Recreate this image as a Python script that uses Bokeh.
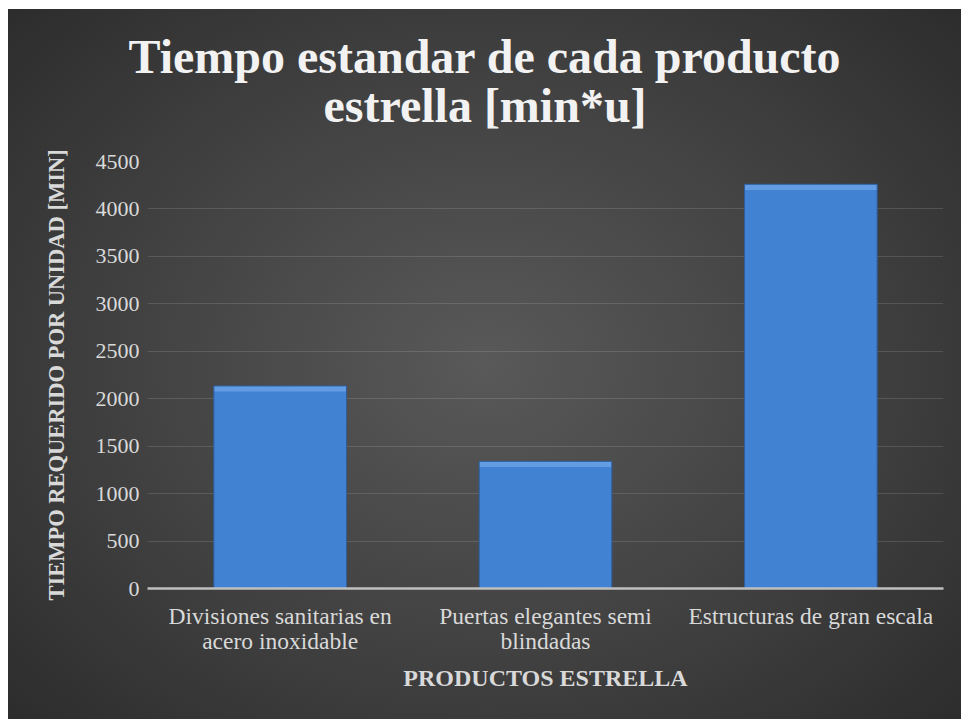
import json
from bokeh.plotting import figure
from bokeh.models import Spacer, Range1d, Title, CategoricalAxis, CustomJSTickFormatter
from bokeh.layouts import column, row
from bokeh.embed import file_html
from bokeh.resources import INLINE

categories = ["Divisiones sanitarias en acero inoxidable",
              "Puertas elegantes semi blindadas",
              "Estructuras de gran escala"]
label_line1 = ["Divisiones sanitarias en", "Puertas elegantes semi", "Estructuras de gran escala"]
label_line2 = ["acero inoxidable", "blindadas", ""]
values = [2135, 1340, 4260]
y_ticks = [0, 500, 1000, 1500, 2000, 2500, 3000, 3500, 4000, 4500]
title_lines = ["Tiempo estandar de cada producto", "estrella [min*u]"]

SERIF = "Liberation Serif"
LABEL_COLOR = "#d9d9d9"
BEVEL = 60  # thickness of the light top bevel, in data units


def label_formatter(lines):
    mapping = json.dumps(dict(zip(categories, lines)))
    return CustomJSTickFormatter(code="const m = %s; return (tick in m) ? m[tick] : tick;" % mapping)


p = figure(x_range=categories, y_range=Range1d(0, 4500), width=953, height=710,
           output_backend="svg", toolbar_location=None,
           min_border_left=139, min_border_right=18, min_border_top=152,
           min_border_bottom=131)

p.styles = {"background": "radial-gradient(ellipse 75% 80% at 50% 50%, #595959 0%, #3f3f3f 55%, #282828 100%)"}
p.background_fill_alpha = 0
p.border_fill_alpha = 0
p.outline_line_color = None

t2 = Title(text=title_lines[1], align="left", offset=176, text_font=SERIF, text_font_size="48px",
           text_font_style="bold", text_color="#f2f2f2", standoff=60)
t1 = Title(text=title_lines[0], align="left", offset=-19, text_font=SERIF, text_font_size="48px",
           text_font_style="bold", text_color="#f2f2f2", standoff=-73)
p.add_layout(t2, "above")
p.add_layout(t1, "above")

# main bars
p.vbar(x=categories, top=values, width=0.5, fill_color="#4282d3", line_color=None)
# soft light top bevel of each bar
p.vbar(x=categories, top=values, bottom=[v - BEVEL for v in values], width=0.5,
       fill_color="#6ea4e8", fill_alpha=0.75, line_color=None)
# outline
p.vbar(x=categories, top=values, width=0.5, fill_color=None,
       line_color="#2d5d9c", line_width=1)

p.xgrid.grid_line_color = None
p.ygrid.grid_line_color = "#d9d9d9"
p.ygrid.grid_line_alpha = 0.16
p.ygrid.grid_line_width = 1

p.yaxis.ticker = y_ticks
p.yaxis.axis_line_color = None
p.yaxis.major_tick_line_color = None
p.yaxis.minor_tick_line_color = None
p.yaxis.major_label_text_font = SERIF
p.yaxis.major_label_text_font_size = "22px"
p.yaxis.major_label_text_color = LABEL_COLOR
p.yaxis.major_label_standoff = 2
p.yaxis.axis_label = "TIEMPO REQUERIDO POR UNIDAD [MIN]"
p.yaxis.axis_label_text_font = SERIF
p.yaxis.axis_label_text_font_size = "22.5px"
p.yaxis.axis_label_text_font_style = "bold"
p.yaxis.axis_label_text_color = LABEL_COLOR
p.yaxis.axis_label_standoff = 24

xa = p.xaxis[0]
xa.axis_line_color = "#bfbfbf"
xa.axis_line_width = 2.5
xa.major_tick_line_color = None
xa.minor_tick_line_color = None
xa.formatter = label_formatter(label_line1)
xa.major_label_text_font = SERIF
xa.major_label_text_font_size = "23.5px"
xa.major_label_text_color = LABEL_COLOR
xa.major_label_standoff = 8

xa2 = CategoricalAxis()
xa2.axis_line_color = None
xa2.major_tick_line_color = None
xa2.minor_tick_line_color = None
xa2.formatter = label_formatter(label_line2)
xa2.major_label_text_font = SERIF
xa2.major_label_text_font_size = "23.5px"
xa2.major_label_text_color = LABEL_COLOR
xa2.major_label_standoff = -10
xa2.axis_label = "PRODUCTOS ESTRELLA"
xa2.axis_label_text_font = SERIF
xa2.axis_label_text_font_size = "24px"
xa2.axis_label_text_font_style = "bold"
xa2.axis_label_text_color = LABEL_COLOR
xa2.axis_label_standoff = 8
p.add_layout(xa2, "below")

layout = column(Spacer(height=9), row(Spacer(width=8), p))

open("out.html", "w").write(file_html(layout, INLINE))
